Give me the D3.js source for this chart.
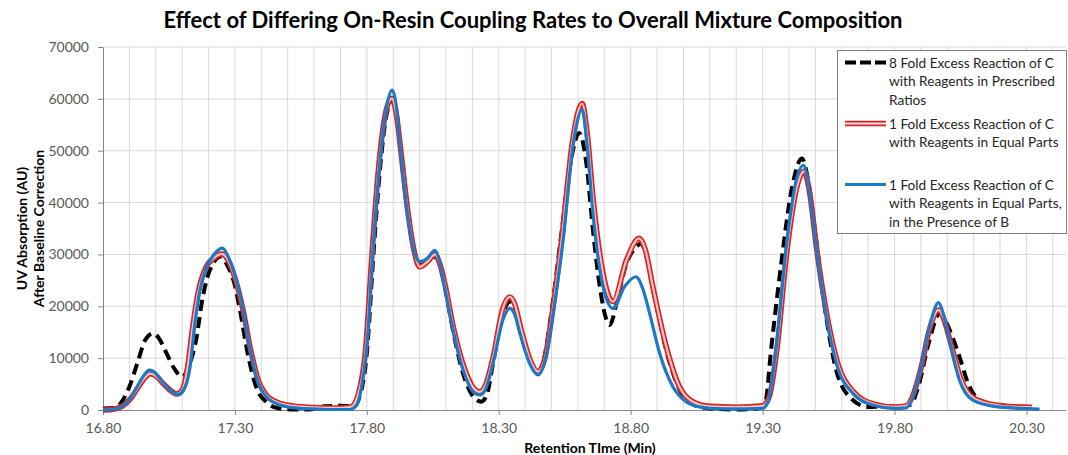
<!DOCTYPE html>
<html>
<head>
  <meta charset="utf-8">
  <title>On-Resin Coupling Rates</title>
  <script src="https://d3js.org/d3.v7.min.js"></script>
  <style>
    body { margin: 0; background: #fff; }
    svg { display: block; font-family: Lato, "Open Sans", sans-serif; }
    .tick line, .domain { stroke: #868686; }
    .grid line { stroke: #d9d9d9; stroke-width: 1; }
  </style>
</head>
<body>
  <svg width="1068" height="455"></svg>

  <script>
    // [retention time (min), UV absorption (AU)]
    const fold8Prescribed = [
      [16.80, 300], [16.84, 400], [16.87, 1500], [16.90, 4500], [16.93, 9000], [16.96, 13500],
      [16.99, 14800], [17.01, 14000], [17.04, 11000], [17.07, 8000], [17.10, 6400], [17.125, 8500],
      [17.155, 14100], [17.174, 20600], [17.193, 25100], [17.218, 28300], [17.246, 29600], [17.27, 28000],
      [17.30, 24000], [17.32, 19000], [17.35, 10500], [17.38, 4500], [17.42, 1500], [17.46, 400],
      [17.52, 100], [17.58, 100], [17.64, 700], [17.70, 800], [17.75, 700], [17.78, 4000],
      [17.80, 11000], [17.825, 30000], [17.85, 46500], [17.875, 57000], [17.898, 59800], [17.915, 56500],
      [17.93, 49000], [17.955, 38000], [17.98, 30500], [18.00, 28200], [18.03, 28800], [18.06, 29500],
      [18.08, 27500], [18.095, 24000], [18.13, 14500], [18.165, 7000], [18.20, 2800], [18.234, 1600],
      [18.255, 3000], [18.28, 9500], [18.316, 18500], [18.342, 20900], [18.36, 19500], [18.385, 14500],
      [18.42, 9000], [18.449, 7200], [18.47, 9500], [18.50, 19000], [18.535, 33000], [18.57, 47000],
      [18.605, 53400], [18.632, 47600], [18.657, 34700], [18.683, 23800], [18.708, 17400], [18.72, 16400],
      [18.752, 21800], [18.78, 27600], [18.822, 31500], [18.84, 32100], [18.86, 29500], [18.89, 22000],
      [18.94, 10500], [18.99, 3500], [19.04, 1000], [19.10, 300], [19.20, 100], [19.28, 300],
      [19.31, 1500], [19.333, 12000], [19.37, 28000], [19.41, 42500], [19.449, 48500], [19.47, 45000],
      [19.50, 34000], [19.535, 20000], [19.575, 8500], [19.63, 2500], [19.70, 600], [19.76, 700],
      [19.82, 700], [19.86, 1000], [19.89, 4500], [19.93, 13000], [19.972, 18650], [19.995, 17000],
      [20.02, 14000], [20.046, 10300], [20.08, 5000], [20.12, 2000], [20.20, 800], [20.32, 500]
    ];

    const fold1Equal = [
      [16.80, 0], [16.845, 200], [16.875, 800], [16.905, 2200], [16.935, 4500], [16.96, 6300],
      [16.978, 7000], [17.00, 6600], [17.03, 5000], [17.06, 3600], [17.08, 3100], [17.10, 3800],
      [17.12, 8000], [17.14, 16000], [17.16, 22500], [17.19, 27500], [17.22, 29300], [17.25, 30100],
      [17.275, 28800], [17.30, 25500], [17.33, 19500], [17.36, 11500], [17.39, 5500], [17.42, 2800],
      [17.46, 1500], [17.52, 800], [17.60, 500], [17.70, 400], [17.74, 600], [17.77, 3500],
      [17.795, 11500], [17.82, 30500], [17.845, 47000], [17.872, 57500], [17.895, 60100], [17.912, 57000],
      [17.93, 49500], [17.955, 38500], [17.98, 30500], [18.00, 27600], [18.03, 28600], [18.058, 30000],
      [18.078, 28000], [18.095, 24500], [18.13, 15500], [18.17, 8000], [18.205, 4200], [18.228, 3500],
      [18.25, 4800], [18.28, 10500], [18.315, 19500], [18.342, 21800], [18.36, 20500], [18.385, 15500],
      [18.42, 9500], [18.449, 7400], [18.475, 10000], [18.505, 19500], [18.54, 33500], [18.58, 52000],
      [18.616, 59100], [18.635, 53500], [18.657, 41100], [18.695, 26400], [18.733, 20900], [18.784, 28900],
      [18.832, 33100], [18.855, 31000], [18.884, 23800], [18.935, 12200], [18.985, 4500], [19.036, 1600],
      [19.10, 700], [19.20, 550], [19.30, 800], [19.325, 2500], [19.355, 12000], [19.392, 30500],
      [19.43, 43000], [19.457, 46000], [19.478, 42000], [19.505, 31000], [19.545, 18000], [19.585, 9000],
      [19.645, 3500], [19.72, 1200], [19.80, 600], [19.845, 800], [19.875, 3500], [19.90, 8000],
      [19.935, 16000], [19.968, 19300], [19.985, 17800], [20.01, 13500], [20.05, 6200], [20.10, 2300],
      [20.19, 900], [20.25, 650], [20.32, 550]
    ];

    const fold1EqualB = [
      [16.80, 0], [16.84, 100], [16.87, 600], [16.90, 2000], [16.93, 4500], [16.955, 6700],
      [16.975, 7700], [16.995, 7300], [17.02, 5800], [17.05, 4000], [17.085, 3000], [17.105, 3800],
      [17.13, 8300], [17.148, 16500], [17.167, 23000], [17.193, 27600], [17.224, 30200], [17.253, 31200],
      [17.275, 29500], [17.30, 26000], [17.325, 21000], [17.357, 11800], [17.388, 5300], [17.42, 2500],
      [17.458, 1200], [17.51, 500], [17.57, 250], [17.65, 100], [17.735, 100], [17.76, 800],
      [17.78, 4500], [17.80, 12200], [17.824, 31500], [17.849, 47600], [17.875, 58500], [17.896, 61700],
      [17.912, 58500], [17.925, 51500], [17.95, 39500], [17.975, 31500], [18.00, 28600], [18.03, 29300],
      [18.058, 30800], [18.075, 28800], [18.09, 25000], [18.127, 15400], [18.165, 7700], [18.203, 3500],
      [18.228, 2900], [18.25, 4000], [18.278, 9000], [18.316, 17400], [18.342, 19600], [18.36, 18500],
      [18.38, 14800], [18.417, 9000], [18.449, 6750], [18.475, 9500], [18.506, 18600], [18.544, 32800],
      [18.581, 50800], [18.617, 57900], [18.635, 51000], [18.657, 37900], [18.695, 23800], [18.733, 19600],
      [18.777, 23800], [18.82, 25700], [18.845, 23500], [18.872, 18600], [18.91, 10900], [18.96, 4500],
      [19.01, 1600], [19.06, 600], [19.10, 330], [19.20, 200], [19.30, 300], [19.32, 1500],
      [19.352, 12200], [19.39, 31500], [19.428, 44400], [19.455, 47200], [19.475, 43000], [19.503, 31500],
      [19.54, 18600], [19.58, 9000], [19.642, 3200], [19.718, 960], [19.80, 300], [19.844, 400],
      [19.87, 2500], [19.895, 7000], [19.933, 16100], [19.967, 20700], [19.985, 18500], [20.008, 13500],
      [20.046, 5800], [20.097, 1900], [20.185, 640], [20.25, 400], [20.35, 150]
    ];

    const xTicks = [16.8, 17.3, 17.8, 18.3, 18.8, 19.3, 19.8, 20.3];
    const yTicks = [0, 10000, 20000, 30000, 40000, 50000, 60000, 70000];
    const legendLabels = [
      ["8 Fold Excess Reaction of C", "with Reagents in Prescribed", "Ratios"],
      ["1 Fold Excess Reaction of C", "with Reagents in Equal Parts"],
      ["1 Fold Excess Reaction of C", "with Reagents in Equal Parts,", "in the Presence of B"]
    ];

    const svg = d3.select("svg");
    const plotLeft = 103, plotRight = 1066, plotTop = 47, plotBottom = 410;

    const x = d3.scaleLinear().domain([16.8, 20.45]).range([plotLeft, plotRight]);
    const y = d3.scaleLinear().domain([0, 70000]).range([plotBottom, plotTop]);

    // gridlines
    const grid = svg.append("g").attr("class", "grid");
    grid.selectAll(".v")
      .data(d3.range(1, 37).map(i => 16.8 + i * 0.1))
      .enter().append("line")
      .attr("x1", d => x(d)).attr("x2", d => x(d))
      .attr("y1", plotTop).attr("y2", plotBottom);
    grid.selectAll(".h")
      .data(yTicks.slice(1))
      .enter().append("line")
      .attr("x1", plotLeft).attr("x2", plotRight)
      .attr("y1", d => y(d)).attr("y2", d => y(d));

    // axes
    svg.append("g")
      .attr("transform", `translate(0,${plotBottom})`)
      .call(d3.axisBottom(x).tickValues(xTicks).tickFormat(d3.format(".2f")).tickSize(5).tickSizeOuter(0).tickPadding(8))
      .call(g => g.select(".domain").attr("d", `M${plotLeft},0.5H${plotRight}`));

    svg.append("g")
      .attr("transform", `translate(${plotLeft},0)`)
      .call(d3.axisLeft(y).tickValues(yTicks).tickFormat(d3.format("d")).tickSize(5).tickSizeOuter(0).tickPadding(9));

    svg.selectAll(".tick text")
      .attr("fill", "#595959")
      .style("font-size", "14px").style("font-family", "Lato, sans-serif");

    // series
    const line = d3.line()
      .x(d => x(d[0]))
      .y(d => y(d[1]))
      .curve(d3.curveMonotoneX);

    svg.append("path").datum(fold8Prescribed)
      .attr("d", line).attr("fill", "none")
      .attr("stroke", "#000").attr("stroke-width", 4)
      .attr("stroke-dasharray", "11,6");

    svg.append("path").datum(fold1Equal)
      .attr("d", line).attr("fill", "none")
      .attr("stroke", "#d92323").attr("stroke-width", 5.5)
      .attr("stroke-linejoin", "round");
    svg.append("path").datum(fold1Equal)
      .attr("d", line).attr("fill", "none")
      .attr("stroke", "#fbe0e0").attr("stroke-opacity", 0.85).attr("stroke-width", 2.2)
      .attr("stroke-linejoin", "round");

    svg.append("path").datum(fold1EqualB)
      .attr("d", line).attr("fill", "none")
      .attr("stroke", "#1b79c6").attr("stroke-width", 3.2)
      .attr("stroke-linejoin", "round");

    // titles
    svg.append("text")
      .attr("x", 533).attr("y", 28)
      .attr("text-anchor", "middle")
      .style("font-size", "22px").style("font-weight", "bold")
      .text("Effect of Differing On-Resin Coupling Rates to Overall Mixture Composition");

    svg.append("text")
      .attr("x", 590).attr("y", 453)
      .attr("text-anchor", "middle")
      .style("font-size", "14px").style("font-weight", "bold")
      .text("Retention TIme (Min)");

    const yTitle = svg.append("text")
      .attr("transform", `translate(0,${(plotTop + plotBottom) / 2}) rotate(-90)`)
      .attr("text-anchor", "middle")
      .style("font-size", "14px").style("font-weight", "bold");
    yTitle.append("tspan").attr("x", 0).attr("y", 27).text("UV Absorption (AU)");
    yTitle.append("tspan").attr("x", 0).attr("y", 44).text("After Baseline Correction");

    // legend
    const legend = svg.append("g");
    legend.append("rect")
      .attr("x", 837.5).attr("y", 50.5).attr("width", 229).attr("height", 183)
      .attr("fill", "#fff").attr("stroke", "#7f7f7f");

    const rows = [62.5, 123.5, 184.5];
    const sx1 = 845, sx2 = 886;

    legend.append("line").attr("x1", sx1).attr("x2", sx2).attr("y1", rows[0]).attr("y2", rows[0])
      .attr("stroke", "#000").attr("stroke-width", 4).attr("stroke-dasharray", "11,4");
    legend.append("line").attr("x1", sx1).attr("x2", sx2).attr("y1", rows[1]).attr("y2", rows[1])
      .attr("stroke", "#d92323").attr("stroke-width", 5.5);
    legend.append("line").attr("x1", sx1).attr("x2", sx2).attr("y1", rows[1]).attr("y2", rows[1])
      .attr("stroke", "#fbe0e0").attr("stroke-width", 2.2);
    legend.append("line").attr("x1", sx1).attr("x2", sx2).attr("y1", rows[2]).attr("y2", rows[2])
      .attr("stroke", "#1b79c6").attr("stroke-width", 3.2);

    const legendTexts = legendLabels.map((lines, i) => {
      const t = legend.append("text").style("font-size", "13px").attr("fill", "#262626");
      lines.forEach((s, j) => {
        t.append("tspan").attr("x", 889).attr("y", rows[i] + 5 + j * 18.5).text(s);
      });
      return t;
    });
    // fit the widest legend line to the box (ends near x = 1062)
    const widest = d3.max(legend.selectAll("tspan").nodes(), n => n.getComputedTextLength());
    const fitSize = Math.min(15, 13 * 173 / widest);
    legendTexts.forEach(t => t.style("font-size", fitSize + "px"));
  </script>
</body>
</html>
